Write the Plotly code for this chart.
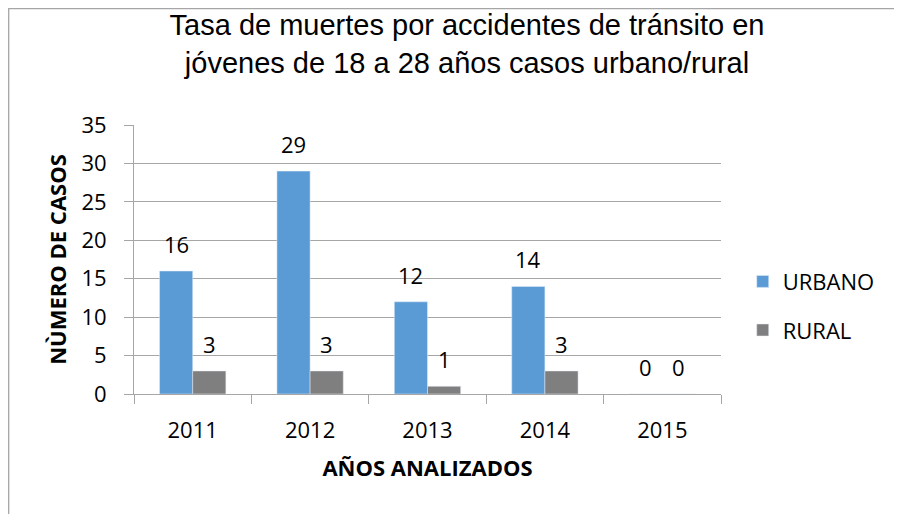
import plotly.graph_objects as go

years = ["2011", "2012", "2013", "2014", "2015"]
urbano = [16, 29, 12, 14, 0]
rural = [3, 3, 1, 3, 0]
series_names = ["URBANO", "RURAL"]
colors = ["#5B9BD5", "#7F7F7F"]
title_text = "Tasa de muertes por accidentes de tránsito en<br>jóvenes de 18 a 28 años casos urbano/rural"
y_title = "NÙMERO DE CASOS"
x_title = "AÑOS ANALIZADOS"

W, H = 902, 514
ML, MT = 126, 117
plot_w, plot_h = 587, 269
MR = W - ML - plot_w
MB = H - MT - plot_h
BARGAP = 0.435
bar_px = plot_w / len(years) * (1 - BARGAP) / 2

FONT = "Open Sans"
FS = 22
GRID = "#A6A6A6"

fig = go.Figure()
for name, vals, col in zip(series_names, [urbano, rural], colors):
    fig.add_trace(go.Bar(x=years, y=vals, name=name, marker=dict(color=col),
                         legendgroup=name))

# data labels (x given as category index)
for i, vals in enumerate([urbano, rural]):
    shift = (-0.5 if i == 0 else 0.5) * bar_px
    for k, v in enumerate(vals):
        fig.add_annotation(x=k, y=v, text=str(v), showarrow=False,
                           xshift=shift, yshift=27, yanchor="middle",
                           font=dict(family=FONT, size=FS, color="#000"))

# outer chart border (left and top visible)
def px_x(p):
    return (p - ML) / plot_w
def px_y(p):
    return (H - MB - p) / plot_h

fig.add_shape(type="rect", xref="paper", yref="paper",
              x0=px_x(0.7), x1=px_x(1000), y0=px_y(0.7), y1=px_y(700),
              line=dict(color="#A6A6A6", width=1.3), fillcolor="rgba(0,0,0,0)", layer="below")

fig.update_layout(
    width=W, height=H,
    margin=dict(l=ML, r=MR, t=MT, b=MB, autoexpand=False),
    paper_bgcolor="white", plot_bgcolor="white",
    barmode="group", bargap=BARGAP, bargroupgap=0,
    title=dict(text=title_text, x=(466 - 7) / W, xanchor="center", xref="container",
               y=1 - 27 / H, yanchor="middle", yref="container",
               font=dict(family="Liberation Sans", size=29, color="#000")),
    legend=dict(x=1.037, xanchor="left", y=0.496, yanchor="top",
                font=dict(family=FONT, size=FS, color="#000"),
                tracegroupgap=17, bgcolor="rgba(0,0,0,0)"),
    xaxis=dict(type="category", range=[-0.5, 4.5], showline=True, linecolor=GRID, linewidth=1,
               ticks="outside", tickson="boundaries", ticklen=9, tickcolor=GRID,
               tickfont=dict(family=FONT, size=FS, color="#000"),
               ticklabelstandoff=17,
               title=dict(text=x_title, standoff=17,
                          font=dict(family=FONT, size=FS, color="#000", weight="bold"))),
    yaxis=dict(range=[0, 35], dtick=5, showgrid=True, gridcolor=GRID, gridwidth=1,
               showline=True, linecolor=GRID, linewidth=1, zeroline=False,
               ticks="outside", ticklen=9, tickcolor=GRID,
               tickfont=dict(family=FONT, size=FS, color="#000"),
               ticklabelstandoff=13,
               title=dict(text=y_title, standoff=8,
                          font=dict(family=FONT, size=FS, color="#000", weight="bold"))),
)

fig.write_html("out.html")
